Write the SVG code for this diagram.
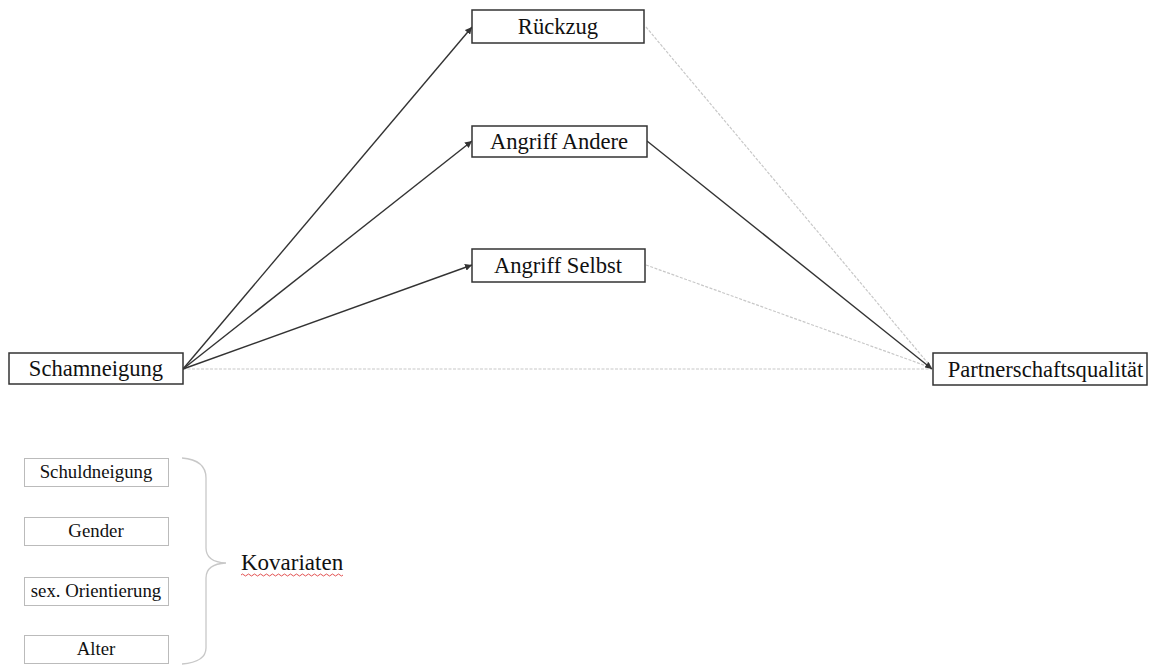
<svg xmlns="http://www.w3.org/2000/svg" width="1152" height="665" viewBox="0 0 1152 665">
<style>
.box{fill:#fff;stroke:#333;stroke-width:1.5}
.cbox{fill:#fff;stroke:#bbb;stroke-width:1}
.t{font-family:"Liberation Serif",Tinos,"DejaVu Serif",serif;font-size:22.6px;fill:#111;text-anchor:middle}
.ct{font-family:"Liberation Serif",Tinos,"DejaVu Serif",serif;font-size:18.8px;fill:#111;text-anchor:middle}
.dark{stroke:#333;stroke-width:1.4;fill:none}
.light{stroke:#c8c8c8;stroke-width:1.2;fill:none;stroke-dasharray:3 1.5}
</style>
<defs>
<marker id="arr" viewBox="0 0 10 10" refX="10" refY="5" markerWidth="5" markerHeight="5" orient="auto" markerUnits="strokeWidth">
<path d="M0,0 L10,5 L0,10 z" fill="#333"/>
</marker>
</defs>
<g id="connectors">
<line class="light" x1="183" y1="369" x2="932" y2="369"/>
<line class="light" x1="646" y1="27" x2="932" y2="368"/>
<line class="light" x1="646" y1="265" x2="932" y2="368"/>
<line class="dark" x1="183" y1="369" x2="472" y2="27" marker-end="url(#arr)"/>
<line class="dark" x1="183" y1="369" x2="472" y2="141" marker-end="url(#arr)"/>
<line class="dark" x1="183" y1="369" x2="472" y2="265" marker-end="url(#arr)"/>
<line class="dark" x1="647" y1="141" x2="932" y2="369" marker-end="url(#arr)"/>
</g>
<g id="schamneigung"><rect class="box" x="9" y="353" width="174" height="31"/><text class="t" x="96" y="376">Schamneigung</text></g>
<g id="rueckzug"><rect class="box" x="472" y="10" width="172" height="33"/><text class="t" x="558" y="34">Rückzug</text></g>
<g id="angriff-andere"><rect class="box" x="472" y="126" width="175" height="31"/><text class="t" x="559" y="149">Angriff Andere</text></g>
<g id="angriff-selbst"><rect class="box" x="472" y="249" width="173" height="33"/><text class="t" x="558" y="273">Angriff Selbst</text></g>
<g id="partnerschaftsqualitaet"><rect class="box" x="933" y="353" width="214" height="32"/><text class="t" x="1045.5" y="377">Partnerschaftsqualität</text></g>
<g id="schuldneigung"><rect class="cbox" x="24.5" y="458.5" width="144" height="28"/><text class="ct" x="96" y="478">Schuldneigung</text></g>
<g id="gender"><rect class="cbox" x="24.5" y="517.5" width="144" height="28"/><text class="ct" x="96" y="537">Gender</text></g>
<g id="sex-orientierung"><rect class="cbox" x="24.5" y="577.5" width="144" height="28"/><text class="ct" x="96" y="597">sex. Orientierung</text></g>
<g id="alter"><rect class="cbox" x="24.5" y="635.5" width="144" height="28"/><text class="ct" x="96" y="655">Alter</text></g>
<g id="kovariaten">
<path d="M182,458 Q206,460 206,478 L206,548 Q206,562 226,563 Q206,564 206,578 L206,648 Q206,662 182,664" fill="none" stroke="#c8c8c8" stroke-width="1.3"/>
<text x="241" y="570" font-family="'Liberation Serif',Tinos,'DejaVu Serif',serif" font-size="23" fill="#111">Kovariaten</text>
<path d="M241,575 q1.5,-2 3,0 t3,0 t3,0 t3,0 t3,0 t3,0 t3,0 t3,0 t3,0 t3,0 t3,0 t3,0 t3,0 t3,0 t3,0 t3,0 t3,0 t3,0 t3,0 t3,0 t3,0 t3,0 t3,0 t3,0 t3,0 t3,0 t3,0 t3,0 t3,0 t3,0 t3,0 t3,0 t3,0 t3,0" fill="none" stroke="#e04040" stroke-width="0.9"/>
</g>
</svg>
